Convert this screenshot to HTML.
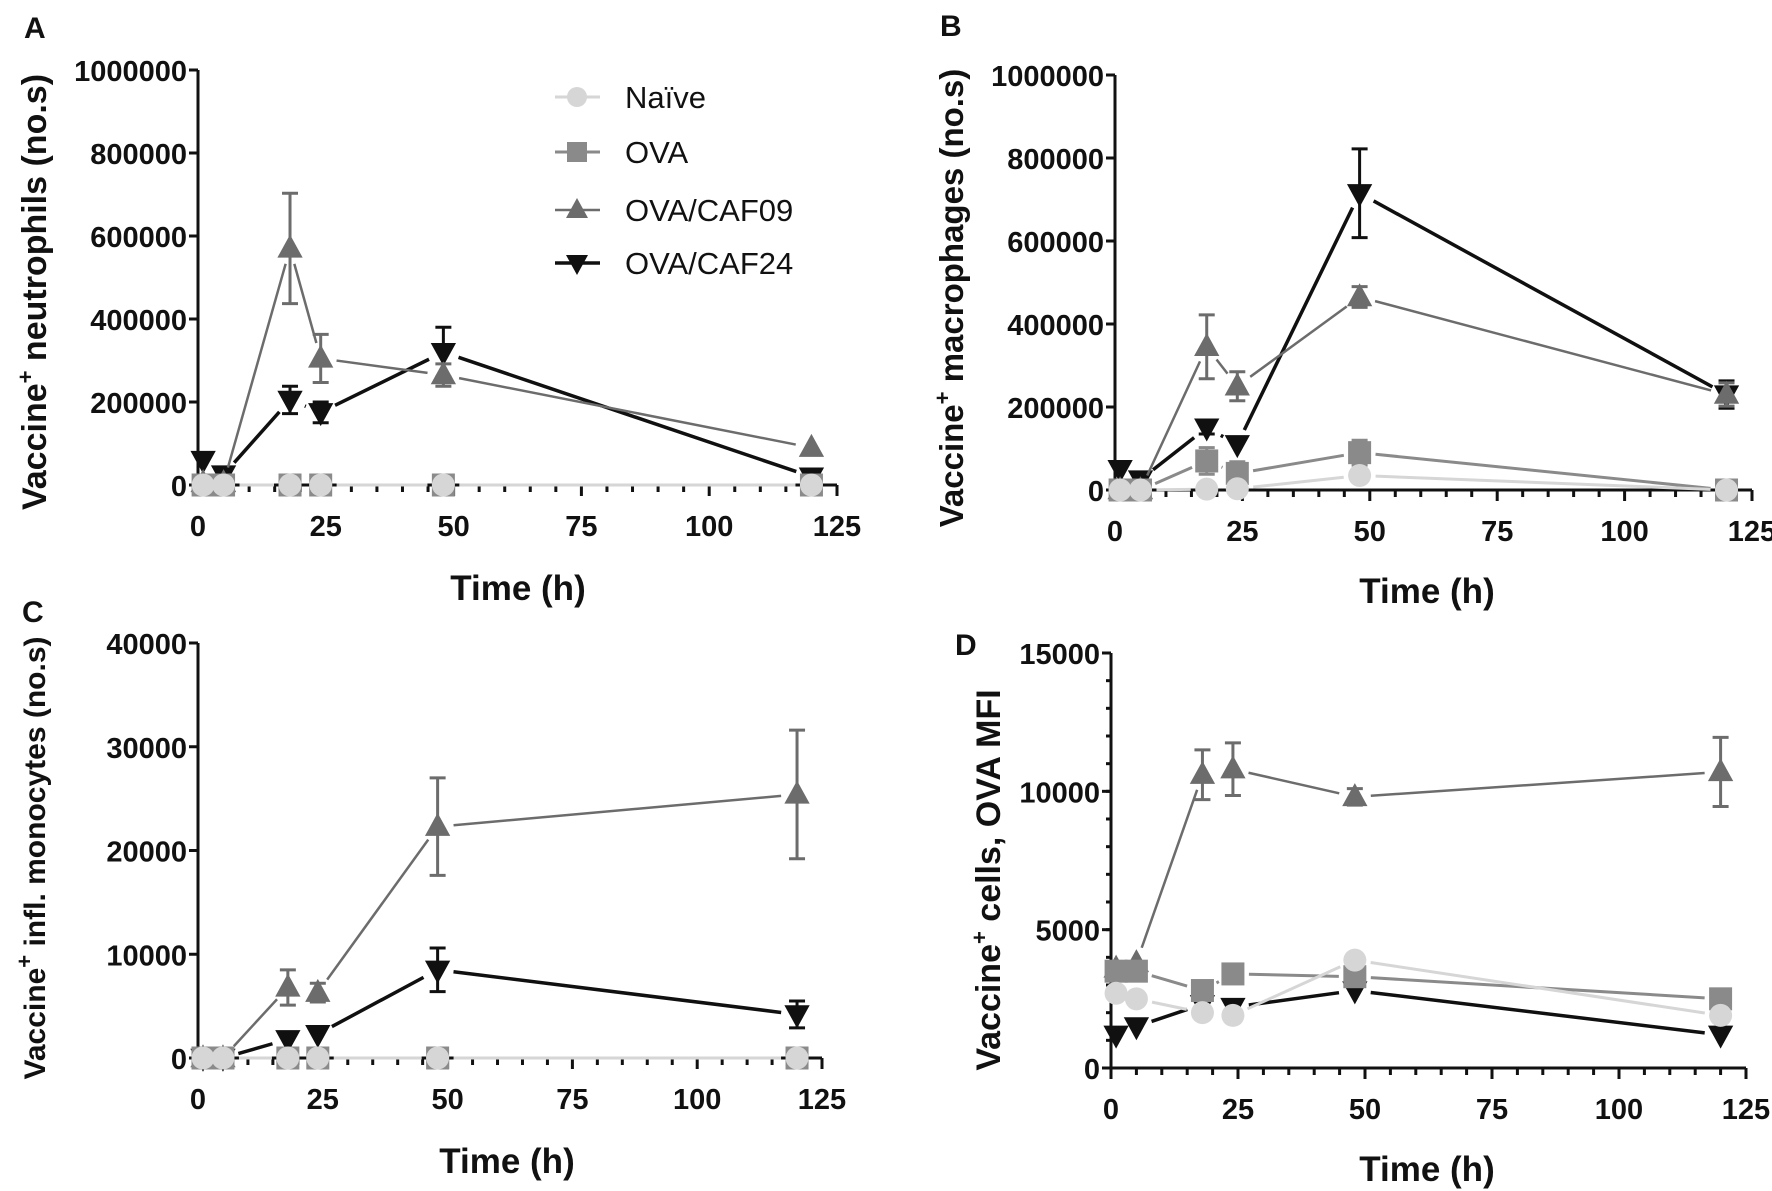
<!DOCTYPE html>
<html><head><meta charset="utf-8">
<style>
html,body{margin:0;padding:0;background:#fff;}
svg{display:block;}
.tk{font-family:"Liberation Sans",sans-serif;font-weight:bold;font-size:29px;fill:#111;}
.ti{font-family:"Liberation Sans",sans-serif;font-weight:bold;font-size:35px;fill:#111;}
.yt{font-family:"Liberation Sans",sans-serif;font-weight:bold;fill:#111;}
.lg{font-family:"Liberation Sans",sans-serif;font-size:31px;fill:#111;}
.pl{font-family:"Liberation Sans",sans-serif;font-weight:bold;font-size:30px;fill:#111;}
</style></head>
<body>
<svg id="fig" width="1772" height="1191" viewBox="0 0 1772 1191" xmlns="http://www.w3.org/2000/svg"></svg>
<script>
const times = [1, 5, 18, 24, 48, 120];
const seriesNames = ["Naïve", "OVA", "OVA/CAF09", "OVA/CAF24"];
const xTicks = [0, 25, 50, 75, 100, 125];
// Panel A
const aNaive = [0, 0, 0, 0, 0, 0];
const aOva = [0, 0, 0, 0, 0, 0];
const aCaf09 = [5000, 5000, 570000, 305000, 265000, 90000];
const aCaf09Err = [0, 0, 133000, 58000, 27000, 0];
const aCaf24 = [60000, 25000, 205000, 175000, 320000, 20000];
const aCaf24Err = [0, 0, 33000, 25000, 60000, 0];
const aTicks = [0, 200000, 400000, 600000, 800000, 1000000];
// Panel B
const bNaive = [0, 0, 2000, 3000, 35000, 0];
const bOva = [0, 0, 70000, 40000, 90000, 0];
const bOvaErr = [0, 0, 32000, 28000, 30000, 0];
const bCaf09 = [0, 0, 345000, 250000, 465000, 230000];
const bCaf09Err = [0, 0, 77000, 35000, 25000, 28000];
const bCaf24 = [50000, 25000, 150000, 110000, 715000, 230000];
const bCaf24Err = [0, 0, 15000, 0, 107000, 33000];
const bTicks = [0, 200000, 400000, 600000, 800000, 1000000];
// Panel C
const cNaive = [0, 0, 0, 0, 0, 0];
const cOva = [0, 0, 0, 0, 0, 0];
const cCaf09 = [0, 0, 6800, 6300, 22300, 25400];
const cCaf09Err = [0, 0, 1700, 900, 4700, 6200];
const cCaf24 = [0, 0, 1800, 2300, 8500, 4200];
const cCaf24Err = [0, 0, 0, 0, 2100, 1300];
const cTicks = [0, 10000, 20000, 30000, 40000];
// Panel D
const dNaive = [2700, 2500, 2000, 1900, 3900, 1900];
const dOva = [3500, 3500, 2800, 3400, 3300, 2500];
const dCaf09 = [3600, 3800, 10600, 10800, 9800, 10700];
const dCaf09Err = [0, 0, 900, 950, 300, 1250];
const dCaf24 = [1200, 1500, 2300, 2200, 2800, 1200];
const dTicks = [0, 5000, 10000, 15000];

const NS = "http://www.w3.org/2000/svg";
const svg = document.getElementById('fig');
const colors = ["#d6d6d6", "#8a8a8a", "#6c6c6c", "#101010"];
const widths = [3, 3, 2.5, 3.5];
function mk(tag, attrs, parent) {
  const e = document.createElementNS(NS, tag);
  for (const k in attrs) e.setAttribute(k, attrs[k]);
  (parent || svg).appendChild(e);
  return e;
}
function marker(g, kind, cx, cy, col, r) {
  let m;
  if (kind === 0) m = mk('circle', {cx: cx, cy: cy, r: r, fill: col}, g);
  else if (kind === 1) m = mk('rect', {x: cx - r, y: cy - r, width: 2 * r, height: 2 * r, fill: col}, g);
  else if (kind === 2) m = mk('polygon', {points: `${cx},${cy - r * 1.2} ${cx - r * 1.1},${cy + r * 0.8} ${cx + r * 1.1},${cy + r * 0.8}`, fill: col}, g);
  else m = mk('polygon', {points: `${cx},${cy + r * 1.2} ${cx - r * 1.1},${cy - r * 0.8} ${cx + r * 1.1},${cy - r * 0.8}`, fill: col}, g);
  return m;
}
function panel(p) {
  const g = mk('g', {});
  
  
  const X = v => p.x0 + (p.x1 - p.x0) * v / 125;
  const Y = v => p.y0 - (p.y0 - p.y1) * v / p.ymax;
  const ax = mk('g', {stroke: '#111', 'stroke-width': 3}, g);
  
  
  mk('line', {x1: p.x0, y1: p.y0, x2: p.x0, y2: Y(p.ymax)}, ax);
  mk('line', {x1: p.x0, y1: p.y0, x2: X(125), y2: p.y0}, ax);
  for (let t = 0; t <= 125; t += 5) {
    const major = t % 25 === 0;
    mk('line', {x1: X(t), y1: p.y0, x2: X(t), y2: p.y0 + (major ? 11 : 7)}, ax);
  }
  if (p.minorY) for (let v = 0; v <= p.ymax; v += p.minorY) mk('line', {x1: p.x0 - 5, y1: Y(v), x2: p.x0, y2: Y(v)}, ax);
  p.yTicks.forEach(v => mk('line', {x1: p.x0 - 9, y1: Y(v), x2: p.x0, y2: Y(v)}, ax));
  xTicks.forEach(v => {
    const t = mk('text', {x: X(v), y: p.y0 + 51, 'text-anchor': 'middle', class: 'tk'}, g);
    
    
    t.textContent = v;
  });
  p.yTicks.forEach(v => {
    const t = mk('text', {x: p.x0 - 11, y: Y(v) + 11, 'text-anchor': 'end', class: 'tk'}, g);
    
    
    t.textContent = v;
  });
  const xt = mk('text', {x: p.xtx, y: p.xty, 'text-anchor': 'middle', class: 'ti'}, g);
  
  
  xt.textContent = 'Time (h)';
  const yt = mk('text', {x: 0, y: 0, 'text-anchor': 'middle', class: 'yt', 'font-size': p.yfs, transform: `translate(${p.ytx},${p.yty}) rotate(-90)`}, g);
  
  
  yt.innerHTML = 'Vaccine<tspan dy="-13" font-size="22">+</tspan><tspan dy="13"> ' + p.ytitle + '</tspan>';
  const lb = mk('text', {x: p.lx, y: p.ly, class: 'pl'}, g);
  
  
  lb.textContent = p.label;
  for (let k = p.series.length - 1; k >= 0; k--) {
    const s = p.series[k];
    const sg = mk('g', {}, g);
    
    
    const vals = s.v, err = s.e;
    for (let i = 0; i < times.length - 1; i++) {
      const ax1 = X(times[i]), ay1 = Y(vals[i]), ax2 = X(times[i + 1]), ay2 = Y(vals[i + 1]);
      const dx = ax2 - ax1, dy = ay2 - ay1, L = Math.hypot(dx, dy);
      const gap = 16;
      if (L <= 2 * gap) continue;
      const ux = dx / L, uy = dy / L;
      const ln = mk('line', {x1: ax1 + ux * gap, y1: ay1 + uy * gap, x2: ax2 - ux * gap, y2: ay2 - uy * gap, stroke: colors[k], 'stroke-width': widths[k]}, sg);
      
      
    }
    times.forEach((t, i) => {
      if (err && err[i] > 0) {
        const eg = mk('g', {stroke: colors[k], 'stroke-width': 3}, sg);
        
        
        const cx = X(t);
        mk('line', {x1: cx, y1: Y(vals[i] - err[i]), x2: cx, y2: Y(vals[i] + err[i])}, eg);
        mk('line', {x1: cx - 8, y1: Y(vals[i] - err[i]), x2: cx + 8, y2: Y(vals[i] - err[i])}, eg);
        mk('line', {x1: cx - 8, y1: Y(vals[i] + err[i]), x2: cx + 8, y2: Y(vals[i] + err[i])}, eg);
      }
      const m = marker(sg, k, X(t), Y(vals[i]), colors[k], 11.5);
      
      
    });
  }
}
panel({name: 'panel-a-neutrophils', label: 'A', lx: 24, ly: 38, x0: 198, x1: 837, y0: 485, y1: 70, ymax: 1000000, yTicks: aTicks,
  xtx: 518, xty: 600, ytx: 46, yty: 292, yfs: 34, ytitle: 'neutrophils (no.s)',
  series: [{v: aNaive}, {v: aOva}, {v: aCaf09, e: aCaf09Err}, {v: aCaf24, e: aCaf24Err}]});
panel({name: 'panel-b-macrophages', label: 'B', lx: 940, ly: 36, x0: 1115, x1: 1752, y0: 490, y1: 75, ymax: 1000000, yTicks: bTicks,
  xtx: 1427, xty: 603, ytx: 963, yty: 298, yfs: 33, ytitle: 'macrophages (no.s)',
  series: [{v: bNaive}, {v: bOva, e: bOvaErr}, {v: bCaf09, e: bCaf09Err}, {v: bCaf24, e: bCaf24Err}]});
panel({name: 'panel-c-monocytes', label: 'C', lx: 22, ly: 622, x0: 198, x1: 822, y0: 1058, y1: 643, ymax: 40000, yTicks: cTicks,
  xtx: 507, xty: 1173, ytx: 45, yty: 858, yfs: 30, ytitle: 'infl. monocytes (no.s)',
  series: [{v: cNaive}, {v: cOva}, {v: cCaf09, e: cCaf09Err}, {v: cCaf24, e: cCaf24Err}]});
panel({name: 'panel-d-ova-mfi', label: 'D', lx: 955, ly: 655, x0: 1111, x1: 1746, y0: 1068, y1: 653, ymax: 15000, yTicks: dTicks, minorY: 1000,
  xtx: 1427, xty: 1181, ytx: 1000, yty: 880, yfs: 34, ytitle: 'cells, OVA MFI',
  series: [{v: dNaive}, {v: dOva}, {v: dCaf09, e: dCaf09Err}, {v: dCaf24}]});
const lg = mk('g', {});


const rowsY = [97, 152, 210, 263];
seriesNames.forEach((n, k) => {
  const e = mk('g', {}, lg);
  
  
  mk('line', {x1: 555, y1: rowsY[k], x2: 600, y2: rowsY[k], stroke: colors[k], 'stroke-width': widths[k]}, e);
  marker(e, k, 577, rowsY[k], colors[k], 10);
  const t = mk('text', {x: 625, y: rowsY[k] + 11, class: 'lg'}, e);
  t.textContent = n;
});
</script>
</body></html>
